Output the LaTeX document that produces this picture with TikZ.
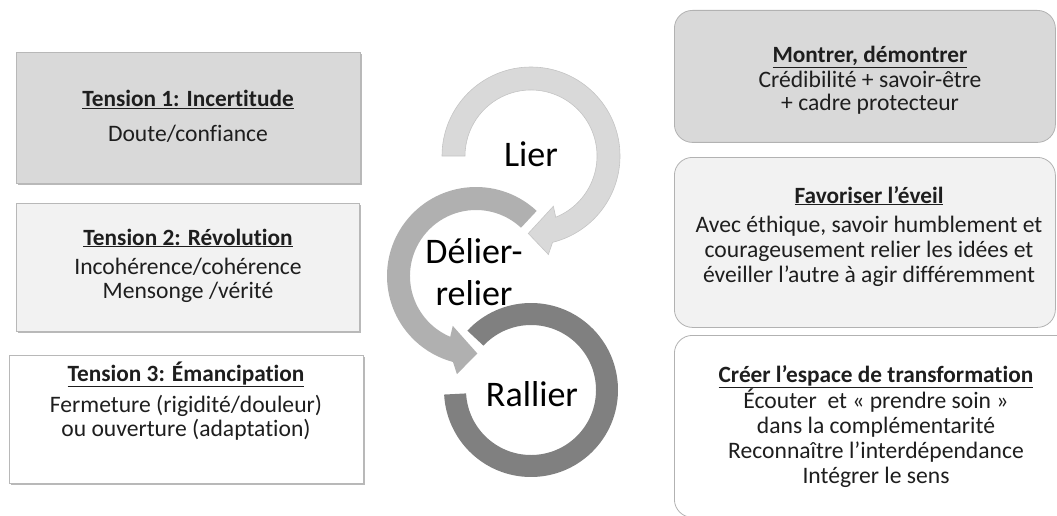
\documentclass[tikz,border=0pt]{standalone}
\usepackage{fontspec}
\setmainfont{Carlito}[Ligatures=NoCommon]
\usetikzlibrary{shadows}
\definecolor{gA}{HTML}{D9D9D9}
\definecolor{gB}{HTML}{F2F2F2}
\definecolor{rLier}{HTML}{D9D9D9}
\definecolor{rLierD}{HTML}{C4C4C4}
\definecolor{rDel}{HTML}{B0B0B0}
\definecolor{rRal}{HTML}{808080}
\definecolor{txt}{HTML}{1E1E1E}
\begin{document}
\begin{tikzpicture}[x=1pt,y=1pt,
  lbox/.style={draw=black!28, line width=0.8pt, anchor=north west, inner sep=0,
    drop shadow={shadow xshift=2pt,shadow yshift=-2pt,fill=black!50,opacity=0.55}},
  rbox/.style={draw=black!30, line width=0.8pt, rounded corners=18pt, anchor=north west, inner sep=0},
  ttl/.style={font=\fontsize{23.3}{26}\selectfont\bfseries, text=txt, inner sep=0, anchor=base},
  bod/.style={font=\fontsize{23.6}{26}\selectfont, text=txt, inner sep=0, anchor=base},
  big/.style={font=\fontsize{36}{42}\selectfont, text=black, inner sep=0, anchor=base}]
\useasboundingbox (0,0) rectangle (1057,-516);

% ---------- left boxes ----------
\node[lbox, fill=gA, minimum width=344, minimum height=131] (t1) at (16,-52) {};
\node[lbox, fill=gB, minimum width=343, minimum height=128] (t2) at (16,-203) {};
\node[lbox, fill=white, minimum width=354, minimum height=128] (t3) at (9,-355) {};

\node[ttl] (t1a) at (188,-107) {\underline{Tension 1: Incertitude}};
\node[bod] (t1b) at (188,-142) {Doute/confiance};

\node[ttl] (t2a) at (188,-245) {\underline{Tension 2: Révolution}};
\node[bod] (t2b) at (188,-274) {Incohérence/cohérence};
\node[bod] (t2c) at (188,-298) {Mensonge /vérité};

\node[ttl] (t3a) at (186,-381) {\underline{Tension 3: Émancipation}};
\node[bod] (t3b) at (186,-412) {Fermeture (rigidité/douleur)};
\node[bod] (t3c) at (186,-436) {ou ouverture (adaptation)};

% ---------- rings ----------
\begin{scope}[shift={(531,-390)}]
  \fill[rRal] (137:87) arc[start angle=137,end angle=-177,radius=87]
    -- (-177:65) arc[start angle=-177,end angle=137,radius=65] -- cycle;
\end{scope}
\begin{scope}[shift={(476,-276)}]
  \fill[rDel] (47:89) arc[start angle=47,end angle=255,radius=89]
    -- (259:100) -- (271:77.5) -- (245:55) -- (247:66)
    arc[start angle=247,end angle=47,radius=66] -- cycle;
\end{scope}
\begin{scope}[shift={(531,-156)}]
  \filldraw[fill=rLier, draw=rLierD, line width=0.6pt] (180:89) arc[start angle=180,end angle=-76,radius=89]
    -- (-80:100) -- (-92:77.5) -- (-66:55) -- (-68:66)
    arc[start angle=-68,end angle=180,radius=66] -- cycle;
\end{scope}

\node[big] (lier) at (531,-166) {Lier};
\node[big] (delier) at (474,-263) {Délier-};
\node[big] (relier) at (474,-305) {relier};
\node[big] (rallier) at (532,-406) {Rallier};

% ---------- right boxes ----------
\node[rbox, fill=gA, minimum width=381, minimum height=132] (m1) at (674,-10) {};
\node[rbox, fill=gB, minimum width=381, minimum height=170] (m2) at (674,-157) {};
\node[rbox, fill=white, minimum width=400, minimum height=182] (m3) at (674,-335) {};

\node[ttl] (m1a) at (870,-63) {\underline{Montrer, démontrer}};
\node[bod] (m1b) at (870,-88) {Crédibilité + savoir-être};
\node[bod] (m1c) at (870,-111) {+ cadre protecteur};

\node[ttl] (m2a) at (869,-203) {\underline{Favoriser l’éveil}};
\node[bod] (m2b) at (869,-232) {Avec éthique, savoir humblement et};
\node[bod] (m2c) at (869,-257) {courageusement relier les idées et};
\node[bod] (m2d) at (869,-282) {éveiller l’autre à agir différemment};

\node[ttl] (m3a) at (876,-382) {\underline{Créer l’espace de transformation}};
\node[bod] (m3b) at (876,-408) {Écouter\ \ et « prendre soin »};
\node[bod] (m3c) at (876,-433) {dans la complémentarité};
\node[bod] (m3d) at (876,-458) {Reconnaître l’interdépendance};
\node[bod] (m3e) at (876,-483) {Intégrer le sens};
\end{tikzpicture}
\end{document}
